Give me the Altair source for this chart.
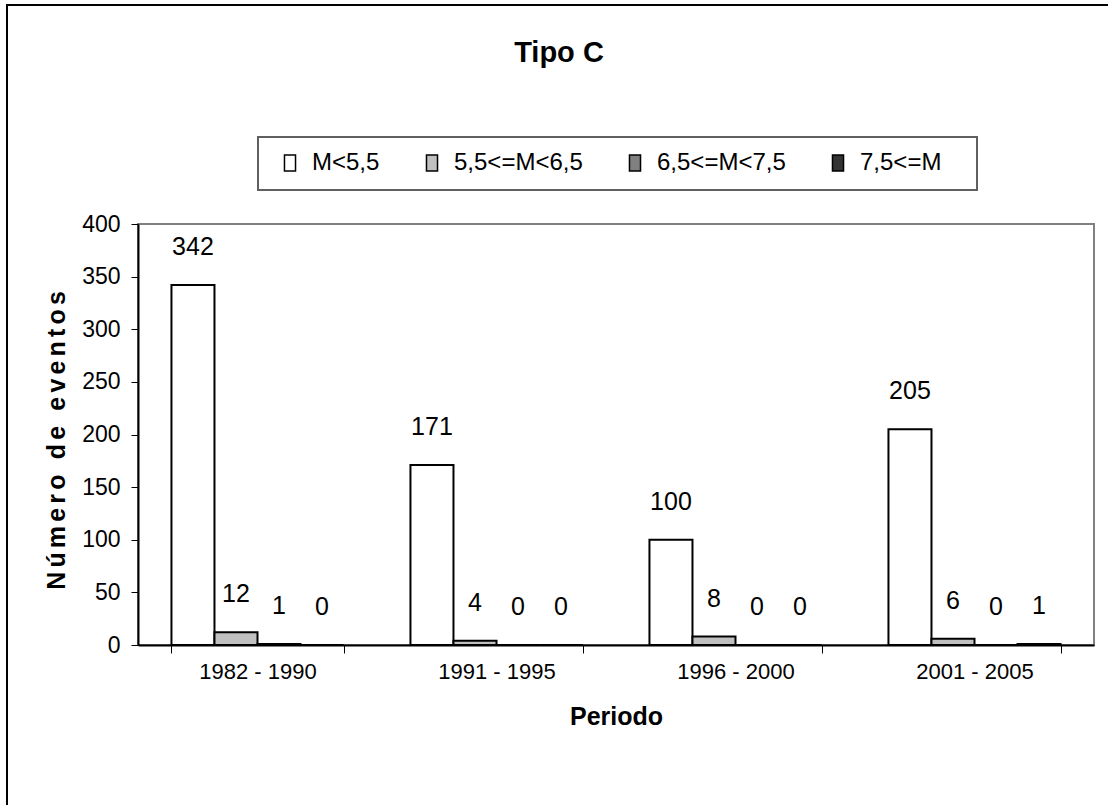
import altair as alt
import pandas as pd

# Number of events per period, split by magnitude range
periods = ["1982 - 1990", "1991 - 1995", "1996 - 2000", "2001 - 2005"]
ranges = ["M<5,5", "5,5<=M<6,5", "6,5<=M<7,5", "7,5<=M"]
m_below_55 = [342, 171, 100, 205]
m_55_65 = [12, 4, 8, 6]
m_65_75 = [1, 0, 0, 0]
m_from_75 = [0, 0, 0, 1]
range_colors = ["#ffffff", "#c0c0c0", "#808080", "#333333"]

chart_title = "Tipo C"
y_title = "Número de eventos"
x_title = "Periodo"

FONT = "Liberation Sans, Arial, sans-serif"

series = [m_below_55, m_55_65, m_65_75, m_from_75]
rows = []
for rng, values in zip(ranges, series):
    for period, v in zip(periods, values):
        rows.append({"Periodo": period, "Rango": rng, "Eventos": v})
df = pd.DataFrame(rows)

# spread letters of the rotated axis title a little
spaced_y_title = "\u2006".join(y_title)

x_enc = alt.X(
    "Periodo:N",
    sort=periods,
    scale=alt.Scale(paddingInner=0.28, paddingOuter=0.14),
    axis=alt.Axis(
        title=x_title,
        labelAngle=0,
        labelFont=FONT,
        labelFontSize=22,
        labelColor="black",
        labelPadding=8,
        tickBand="extent",
        tickSize=8,
        tickColor="black",
        tickWidth=1,
        domainColor="black",
        domainWidth=2,
        titleFont=FONT,
        titleFontSize=25,
        titleFontWeight="bold",
        titleColor="black",
        titleBaseline="middle",
        titleY=71,
    ),
)
xoff_enc = alt.XOffset("Rango:N", sort=ranges, scale=alt.Scale(paddingInner=0, paddingOuter=0))
y_enc = alt.Y(
    "Eventos:Q",
    scale=alt.Scale(domain=[0, 400], nice=False),
    axis=alt.Axis(
        title=spaced_y_title,
        values=list(range(0, 401, 50)),
        grid=False,
        labelFont=FONT,
        labelFontSize=23,
        labelColor="black",
        labelPadding=11,
        tickSize=7,
        tickColor="black",
        tickWidth=1,
        domainColor="black",
        domainWidth=2,
        titleFont=FONT,
        titleFontSize=25,
        titleFontWeight="bold",
        titleColor="black",
        titleAngle=270,
        titleBaseline="middle",
        titleX=-82,
        titleY=216,
    ),
)

bars = alt.Chart(df).mark_bar(stroke="black", strokeWidth=2).encode(
    x=x_enc,
    xOffset=xoff_enc,
    y=y_enc,
    fill=alt.Fill(
        "Rango:N",
        sort=ranges,
        scale=alt.Scale(domain=ranges, range=range_colors),
        legend=alt.Legend(
            title=None,
            orient="none",
            legendX=140,
            legendY=-73,
            direction="horizontal",
            columns=4,
            columnPadding=40,
            padding=0,
            symbolType="M-0.69,-1H0.69V1H-0.69Z",
            symbolSize=256,
            symbolStrokeColor="black",
            symbolStrokeWidth=1.5,
            labelFont=FONT,
            labelFontSize=24,
            labelColor="black",
            labelOffset=10,
        ),
    ),
)

labels = alt.Chart(df).mark_text(
    font=FONT, fontSize=25, color="black", baseline="middle", dy=-38
).encode(x=x_enc, xOffset=xoff_enc, y=y_enc, text="Eventos:Q")

single = pd.DataFrame({"t": [chart_title]})

title_mark = alt.Chart(single).mark_text(
    font=FONT, fontSize=29, fontWeight="bold", color="black", baseline="middle", align="center"
).encode(x=alt.value(421), y=alt.value(-171), text="t:N")

legend_box = alt.Chart(single).mark_rect(
    fill="white", stroke="#606060", strokeWidth=2
).encode(x=alt.value(120), x2=alt.value(839), y=alt.value(-87), y2=alt.value(-34))

outer_frame = alt.Chart(single).mark_rect(
    fill="white", fillOpacity=0, stroke="black", strokeWidth=2
).encode(x=alt.value(-131), x2=alt.value(1000), y=alt.value(-219), y2=alt.value(600))

chart = (
    alt.layer(outer_frame, legend_box, bars, labels, title_mark)
    .properties(
        width=956,
        height=421,
        autosize="none",
        padding={"left": 138, "top": 224, "right": 14, "bottom": 160},
        background="white",
    )
    .configure_view(stroke="#808080", strokeWidth=2)
)

chart.save("out.html", embed_options={"renderer": "svg", "actions": False})
